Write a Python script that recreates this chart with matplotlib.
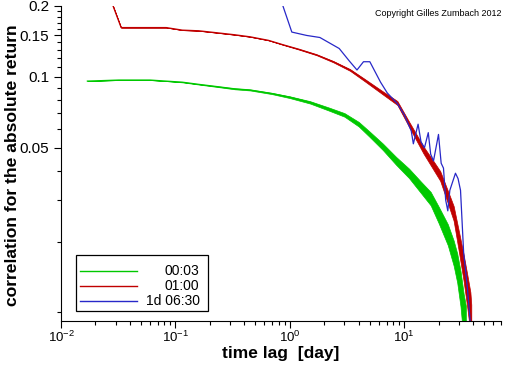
import matplotlib
matplotlib.use("Agg")
import matplotlib.pyplot as plt
from matplotlib.ticker import FixedLocator, FixedFormatter, LogLocator, LogFormatterSciNotation, NullFormatter
from matplotlib.patches import Rectangle

plt.rcParams['font.family'] = ['Liberation Sans', 'DejaVu Sans']
plt.rcParams['mathtext.fontset'] = 'custom'
plt.rcParams['mathtext.rm'] = 'Liberation Sans'

# ---- data ----
green_x = [0.017, 0.032, 0.06, 0.083, 0.115, 0.16, 0.23, 0.33, 0.45, 0.7, 1.0, 1.5, 2.2, 3.0,
           4.0, 5.0, 6.5, 8.5, 11, 14, 17, 20, 24, 27, 29, 31, 33, 34.5]
green_y = [0.096, 0.097, 0.097, 0.096, 0.095, 0.093, 0.091, 0.089, 0.088, 0.085, 0.082, 0.078,
           0.073, 0.069, 0.063, 0.057, 0.0505, 0.044, 0.039, 0.034, 0.0305, 0.026, 0.0215,
           0.018, 0.0156, 0.0128, 0.0098, 0.0085]
# half-width of the noisy band around the green curve (absolute correlation units)
green_spread = [0, 0, 0, 0, 0.0002, 0.0002, 0.0003, 0.0004, 0.0004, 0.0005, 0.0007, 0.0009,
                0.0011, 0.0012, 0.0014, 0.0015, 0.0016, 0.0017, 0.0018, 0.0019, 0.002, 0.0021,
                0.0022, 0.0022, 0.0022, 0.0022, 0.0022, 0.0022]

red_x = [0.0285, 0.0335, 0.05, 0.083, 0.115, 0.16, 0.23, 0.33, 0.45, 0.65, 0.87, 1.2, 1.72,
         2.4, 3.36, 4.5, 6.5, 8.7, 11, 14.7, 17.5, 20.6, 24, 27, 30, 33, 35.5, 37.8, 38.5]
red_y = [0.2, 0.162, 0.162, 0.162, 0.158, 0.157, 0.154, 0.151, 0.148, 0.143, 0.137, 0.131,
         0.124, 0.116, 0.107, 0.097, 0.0855, 0.0775, 0.063, 0.049, 0.043, 0.038, 0.031,
         0.0264, 0.0201, 0.0156, 0.0125, 0.0102, 0.0088]
red_spread = [0, 0, 0, 0, 0, 0, 0, 0, 0, 0, 0.0002, 0.0004, 0.0005, 0.0007, 0.0009,
              0.0011, 0.0013, 0.0015, 0.0016, 0.0017, 0.0018, 0.0018, 0.0019, 0.0019, 0.002,
              0.002, 0.002, 0.002, 0.002]

blue_x = [0.87, 1.04, 1.4, 1.83, 2.7, 3.3, 3.86, 4.4, 5.0, 6.2, 7.1, 8.7, 10, 11.5, 12, 13.2,
          14, 15, 16.2, 17, 18, 19.9, 21, 22, 23, 24, 25, 28, 29.5, 31, 33, 35.6, 37.8]
blue_y = [0.2, 0.155, 0.150, 0.147, 0.132, 0.117, 0.107, 0.116, 0.116, 0.095, 0.0855, 0.077,
          0.069, 0.059, 0.052, 0.063, 0.053, 0.050, 0.058, 0.047, 0.044, 0.057, 0.043, 0.041,
          0.030, 0.027, 0.033, 0.039, 0.037, 0.033, 0.018, 0.0127, 0.009]

labels = ["00:03", "01:00", "1d 06:30"]
colors = ["#00c800", "#c00000", "#2828c8"]

ytick_vals = [0.05, 0.1, 0.15, 0.2]
ytick_labels = ["0.05", "0.1", "0.15", "0.2"]

# ---- figure ----
fig = plt.figure(figsize=(5.12, 3.66), dpi=100)
ax = fig.add_axes([61/512, 45/366, 440/512, 315/366])

bands = [(green_x, green_y, green_spread), (red_x, red_y, red_spread), (blue_x, blue_y, None)]
for (xs, ys, sp), c in zip(bands, colors):
    if sp is not None:
        lo = [max(y - s, 1e-3) for y, s in zip(ys, sp)]
        hi = [y + s for y, s in zip(ys, sp)]
        ax.fill_between(xs, lo, hi, color=c, lw=0.5, edgecolor=c)
    ax.plot(xs, ys, color=c, lw=0.9)

ax.set_xscale('log')
ax.set_yscale('log')
ax.set_xlim(0.01, 70)
ax.set_ylim(0.0092, 0.2)

ax.spines['top'].set_visible(False)
ax.spines['right'].set_visible(False)

ax.xaxis.set_major_locator(LogLocator(base=10, numticks=10))
ax.xaxis.set_major_formatter(LogFormatterSciNotation())
ax.xaxis.set_minor_locator(LogLocator(base=10, subs=range(2, 10), numticks=20))
ax.xaxis.set_minor_formatter(NullFormatter())

ax.yaxis.set_major_locator(FixedLocator(ytick_vals))
ax.yaxis.set_major_formatter(FixedFormatter(ytick_labels))
minor_y = [v / 100 for v in range(1, 20) if v not in (5, 10, 15)]
ax.yaxis.set_minor_locator(FixedLocator(minor_y))
ax.yaxis.set_minor_formatter(NullFormatter())

ax.tick_params(which='major', direction='out', length=5, width=0.8)
ax.tick_params(axis='y', which='major', labelsize=11)
ax.tick_params(axis='x', which='major', labelsize=9.5, pad=1.5)
ax.tick_params(which='minor', direction='out', length=3, width=0.8)

ax.set_xlabel("time lag  [day]", fontsize=12.5, fontweight='bold', va='top')
ax.xaxis.set_label_coords(0.5, -0.08)
ax.set_ylabel("correlation for the absolute return", fontsize=12.6, fontweight='bold',
              va='center')
ax.yaxis.set_label_coords(-0.111, 0.495)

# legend box drawn manually
ax.add_patch(Rectangle((0.034, 0.032), 0.3, 0.178, transform=ax.transAxes,
                       fill=False, edgecolor='black', lw=0.9, zorder=5))
ys_leg = [0.16, 0.11, 0.062]
for yl, c, lab in zip(ys_leg, colors, labels):
    ax.plot([0.043, 0.173], [yl, yl], transform=ax.transAxes, color=c, lw=1.0, zorder=6)
    ax.text(0.315, yl, lab, transform=ax.transAxes, ha='right', va='center', fontsize=10, zorder=6)

fig.text(0.98, 0.962, "Copyright Gilles Zumbach 2012", ha='right', va='center', fontsize=6.5)

fig.savefig("out.png", dpi=100)
